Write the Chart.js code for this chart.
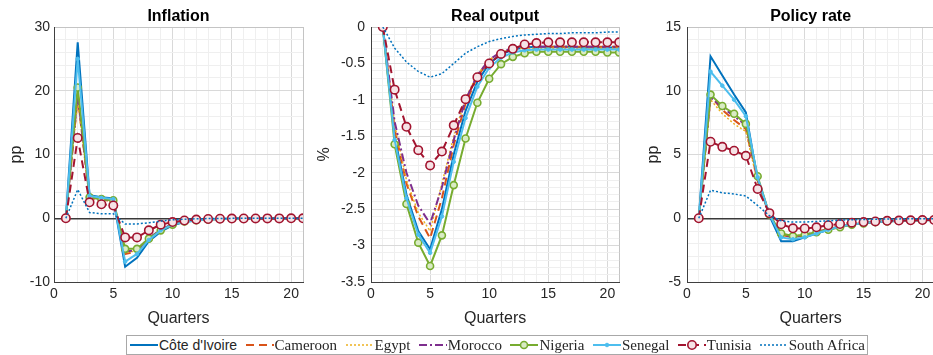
<!DOCTYPE html>
<html>
<head>
<meta charset="utf-8">
<script src="https://cdn.jsdelivr.net/npm/chart.js@4.4.1/dist/chart.umd.min.js"></script>
<style>
  html, body { margin: 0; padding: 0; background: #fff; overflow: hidden; }
  body { width: 933px; height: 355px; position: relative; }
  canvas.panel { position: absolute; top: 0; }
  #legend {
    position: absolute; left: 126px; top: 335px; width: 742px; height: 20px;
    box-sizing: border-box; border: 1px solid #a8a8a8; background: #fff;
    display: flex; align-items: center; justify-content: space-between; padding: 0 2px;
  }
  #legend .item { display: flex; align-items: center; white-space: nowrap; }
  #legend .item span { font: 15px "Liberation Serif", "Times New Roman", serif; color: #262626; }
  #legend .item span.sans { font: 14px "Liberation Sans", Arial, sans-serif; }
</style>
</head>
<body>
<canvas id="inflation" class="panel" width="310" height="330" style="left:0px"></canvas>
<canvas id="output" class="panel" width="315" height="330" style="left:310px"></canvas>
<canvas id="policy" class="panel" width="310" height="330" style="left:630px"></canvas>
<div id="legend"></div>

<script>
const quarters = [1, 2, 3, 4, 5, 6, 7, 8, 9, 10, 11, 12, 13, 14, 15, 16, 17, 18, 19, 20, 21];
const countries = ["Côte d'Ivoire", "Cameroon", "Egypt", "Morocco", "Nigeria", "Senegal", "Tunisia", "South Africa"];

// Inflation, pp
const inflCIV = [0, 27.6, 3.6, 3.3, 3.1, -7.6, -6.2, -3.6, -2.1, -1.1, -0.6, -0.35, -0.2, -0.12, -0.08, -0.05, -0.03, -0.02, -0.01, -0.01, 0];
const inflCMR = [0, 19.0, 3.2, 2.9, 2.7, -5.6, -5.2, -3.3, -1.9, -1.0, -0.5, -0.3, -0.17, -0.1, -0.06, -0.03, -0.02, -0.01, 0, 0, 0];
const inflEGY = [0, 18.5, 3.4, 3.1, 2.9, -5.4, -5.1, -3.2, -1.8, -0.9, -0.5, -0.3, -0.17, -0.1, -0.06, -0.03, -0.02, -0.01, 0, 0, 0];
const inflMAR = [0, 19.5, 3.3, 3.0, 2.8, -5.2, -5.0, -3.1, -1.8, -0.9, -0.5, -0.3, -0.17, -0.1, -0.06, -0.03, -0.02, -0.01, 0, 0, 0];
const inflNGA = [0, 20.5, 3.3, 3.0, 2.8, -4.8, -4.8, -3.2, -1.9, -1.0, -0.5, -0.3, -0.18, -0.1, -0.06, -0.04, -0.02, -0.01, 0, 0, 0];
const inflSEN = [0, 25.0, 3.5, 3.2, 3.0, -6.8, -5.6, -3.4, -1.9, -1.0, -0.55, -0.3, -0.18, -0.1, -0.06, -0.04, -0.02, -0.01, -0.01, 0, 0];
const inflTUN = [0, 12.6, 2.5, 2.2, 2.0, -3.0, -3.0, -1.9, -1.0, -0.6, -0.35, -0.2, -0.12, -0.08, -0.05, -0.04, -0.03, -0.02, -0.02, -0.01, -0.01];
const inflZAF = [0, 4.5, 0.9, 0.7, 0.7, -0.9, -0.9, -0.7, -0.45, -0.25, -0.15, -0.08, -0.05, -0.03, -0.02, -0.01, 0, 0, 0, 0, 0];

// Real output, %
const outCIV = [0, -1.5, -2.3, -2.8, -3.05, -2.5, -1.75, -1.15, -0.75, -0.5, -0.38, -0.31, -0.28, -0.27, -0.27, -0.27, -0.27, -0.28, -0.28, -0.28, -0.28];
const outCMR = [0, -1.4, -2.15, -2.6, -2.9, -2.35, -1.62, -1.05, -0.68, -0.46, -0.35, -0.3, -0.28, -0.27, -0.27, -0.27, -0.27, -0.27, -0.27, -0.27, -0.27];
const outEGY = [0, -1.35, -2.1, -2.55, -2.8, -2.15, -1.5, -0.98, -0.65, -0.45, -0.35, -0.3, -0.29, -0.29, -0.29, -0.29, -0.29, -0.29, -0.29, -0.29, -0.29];
const outMAR = [0, -1.3, -2.0, -2.45, -2.7, -2.2, -1.55, -1.0, -0.66, -0.45, -0.34, -0.29, -0.27, -0.27, -0.27, -0.27, -0.27, -0.27, -0.27, -0.27, -0.27];
const outNGA = [0, -1.61, -2.43, -2.96, -3.28, -2.86, -2.17, -1.53, -1.04, -0.71, -0.51, -0.41, -0.36, -0.34, -0.34, -0.34, -0.34, -0.34, -0.34, -0.35, -0.35];
const outSEN = [0, -1.55, -2.35, -2.85, -3.1, -2.6, -1.85, -1.25, -0.82, -0.56, -0.42, -0.35, -0.32, -0.31, -0.31, -0.31, -0.31, -0.31, -0.31, -0.31, -0.31];
const outTUN = [0, -0.86, -1.37, -1.69, -1.9, -1.71, -1.35, -0.99, -0.69, -0.5, -0.37, -0.3, -0.24, -0.22, -0.21, -0.21, -0.21, -0.21, -0.21, -0.21, -0.21];
const outZAF = [0, -0.29, -0.48, -0.61, -0.69, -0.64, -0.5, -0.36, -0.27, -0.2, -0.16, -0.13, -0.11, -0.1, -0.09, -0.09, -0.08, -0.08, -0.08, -0.07, -0.07];

// Policy rate, pp
const rateCIV = [0, 12.7, 11.2, 9.7, 8.3, 3.0, 0.2, -1.8, -1.8, -1.5, -1.2, -0.9, -0.65, -0.5, -0.38, -0.3, -0.25, -0.2, -0.17, -0.15, -0.13];
const rateCMR = [0, 9.6, 8.5, 7.7, 7.0, 3.0, 0.3, -1.3, -1.5, -1.35, -1.1, -0.85, -0.65, -0.5, -0.38, -0.3, -0.24, -0.2, -0.17, -0.15, -0.13];
const rateEGY = [0, 9.3, 8.2, 7.4, 6.8, 2.8, 0.3, -1.2, -1.4, -1.3, -1.05, -0.8, -0.6, -0.45, -0.35, -0.28, -0.23, -0.19, -0.16, -0.14, -0.12];
const rateMAR = [0, 9.5, 8.7, 8.0, 7.3, 3.1, 0.3, -1.25, -1.45, -1.3, -1.1, -0.85, -0.65, -0.5, -0.38, -0.3, -0.24, -0.2, -0.17, -0.15, -0.13];
const rateNGA = [0, 9.7, 8.8, 8.2, 7.4, 3.3, 0.3, -1.2, -1.4, -1.3, -1.1, -0.9, -0.7, -0.5, -0.4, -0.3, -0.25, -0.2, -0.17, -0.15, -0.13];
const rateSEN = [0, 11.5, 10.4, 9.3, 8.0, 3.2, 0.3, -1.5, -1.65, -1.5, -1.2, -0.9, -0.65, -0.5, -0.38, -0.3, -0.25, -0.2, -0.17, -0.15, -0.13];
const rateTUN = [0, 6.0, 5.6, 5.3, 4.9, 2.3, 0.4, -0.47, -0.79, -0.8, -0.71, -0.55, -0.45, -0.35, -0.3, -0.25, -0.2, -0.18, -0.16, -0.14, -0.13];
const rateZAF = [0, 2.2, 2.0, 1.9, 1.75, 1.0, 0.2, -0.2, -0.3, -0.3, -0.25, -0.2, -0.15, -0.12, -0.1, -0.08, -0.06, -0.05, -0.04, -0.03, -0.03];

// MATLAB-like line styles, same order as countries
const lineStyles = [
  { color: '#0072BD', dash: [], width: 2 },
  { color: '#D95319', dash: [8, 5], width: 2 },
  { color: '#EDB120', dash: [2, 2], width: 1.5 },
  { color: '#7E2F8E', dash: [8, 3, 2, 3], width: 2 },
  { color: '#77AC30', dash: [], width: 2, marker: 'circle', r: 3.5, fill: '#d9ebc4' },
  { color: '#4DBEEE', dash: [], width: 2, marker: 'circle', r: 1.8, fill: '#4DBEEE' },
  { color: '#A2142F', dash: [8, 5], width: 2, marker: 'circle', r: 4.2, fill: '#f6e3e6' },
  { color: '#0072BD', dash: [2, 2], width: 1.5 },
];

const FONT = '"Liberation Sans", Arial, sans-serif';
const INK = '#262626';

const panelTitle = {
  id: 'panelTitle',
  afterDraw(chart, args, opts) {
    /* title centred over the plot box, like matlab */
    const { ctx, chartArea } = chart;
    ctx.save();
    ctx.font = 'bold 16px ' + FONT;
    ctx.fillStyle = '#000';
    ctx.textAlign = 'center';
    ctx.textBaseline = 'middle';
    ctx.fillText(opts.text, (chartArea.left + chartArea.right) / 2, 17);
    ctx.restore();
  }
};

function makeDatasets(series) {
  return series.map((values, i) => {
    const st = lineStyles[i];
    return {
      label: countries[i],
      data: quarters.map((q, k) => ({ x: q, y: values[k] })),
      borderColor: st.color,
      borderWidth: st.width,
      borderDash: st.dash,
      pointRadius: st.marker ? st.r : 0,
      pointStyle: 'circle',
      pointBackgroundColor: st.fill,
      pointBorderColor: st.color,
      pointBorderWidth: st.r > 2 ? 1.6 : 1,
      tension: 0,
      fill: false,
      order: series.length - i,
    };
  });
}

function isMajor(v, step) {
  return Math.abs(v / step - Math.round(v / step)) < 1e-6;
}

function makePanel(id, title, yLabel, series, y) {
  /* y = {min, max, minor, major, width, pad, titlePad, zero} */
  const canvas = document.getElementById(id);
  return new Chart(canvas, {
    type: 'line',
    data: { datasets: makeDatasets(series) },
    plugins: [panelTitle],
    options: {
      responsive: false,
      animation: false,
      devicePixelRatio: 1,
      layout: { padding: { top: 27, right: y.right, bottom: 0, left: 0 } },
      plugins: {
        legend: { display: false },
        tooltip: { enabled: false },
        panelTitle: { text: title },
      },
      scales: {
        x: {
          type: 'linear',
          min: 0, max: 21,
          afterFit: (s) => { s.height = 48; },
          border: { color: '#404040', width: 1 },
          grid: {
            drawTicks: false,
            color: (c) => c.tick.value === 21 ? '#c4c4c4' : (isMajor(c.tick.value, 5) ? '#d9d9d9' : '#efefef'),
          },
          ticks: {
            stepSize: 1, autoSkip: false, maxRotation: 0, padding: 4,
            color: INK, font: { family: FONT, size: 14 },
            callback: (v) => isMajor(v, 5) ? String(v) : '',
          },
          title: {
            display: true, text: 'Quarters', color: INK,
            font: { family: FONT, size: 16 }, padding: { top: 0, bottom: 2 },
          },
        },
        y: {
          min: y.min, max: y.max,
          afterFit: (s) => { s.width = y.width; },
          border: { color: '#404040', width: 1 },
          grid: {
            drawTicks: false,
            color: (c) => {
              const v = c.tick.value;
              if (y.zero && Math.abs(v) < 1e-9) return '#3a3a3a';
              if (Math.abs(v - y.max) < 1e-9) return '#c4c4c4';
              return isMajor(v, y.major) ? '#d9d9d9' : '#efefef';
            },
            lineWidth: (c) => (y.zero && Math.abs(c.tick.value) < 1e-9) ? 1.5 : 1,
          },
          ticks: {
            stepSize: y.minor, autoSkip: false, padding: y.pad,
            color: INK, font: { family: FONT, size: 14 },
            callback: (v) => isMajor(v, y.major) ? String(Math.round(v * 10) / 10) : '',
          },
          title: {
            display: true, text: yLabel, color: INK,
            font: { family: FONT, size: 16 }, padding: { top: y.titlePad, bottom: 0 },
          },
        },
      },
    },
  });
}

makePanel('inflation', 'Inflation', 'pp',
  [inflCIV, inflCMR, inflEGY, inflMAR, inflNGA, inflSEN, inflTUN, inflZAF],
  { min: -10, max: 30, minor: 2, major: 10, width: 54, right: 7, pad: 4, titlePad: 7, zero: true });

makePanel('output', 'Real output', '%',
  [outCIV, outCMR, outEGY, outMAR, outNGA, outSEN, outTUN, outZAF],
  { min: -3.5, max: 0, minor: 0.1, major: 0.5, width: 61, right: 5, pad: 6, titlePad: 5, zero: false });

makePanel('policy', 'Policy rate', 'pp',
  [rateCIV, rateCMR, rateEGY, rateMAR, rateNGA, rateSEN, rateTUN, rateZAF],
  { min: -5, max: 15, minor: 1, major: 5, width: 57, right: 5, pad: 6, titlePad: 14, zero: true });

// legend across the bottom, line samples drawn on small canvases
function buildLegend() {
  const box = document.getElementById('legend');
  countries.forEach((name, i) => {
    const st = lineStyles[i];
    const item = document.createElement('div');
    item.className = 'item';
    const c = document.createElement('canvas');
    c.width = 30; c.height = 14;
    const ctx = c.getContext('2d');
    ctx.strokeStyle = st.color;
    ctx.lineWidth = st.width;
    ctx.setLineDash(st.dash);
    ctx.beginPath();
    ctx.moveTo(1, 7); ctx.lineTo(29, 7);
    ctx.stroke();
    if (st.marker) {
      ctx.setLineDash([]);
      ctx.fillStyle = st.fill;
      ctx.lineWidth = st.r > 2 ? 1.6 : 1;
      ctx.beginPath();
      ctx.arc(15, 7, st.r, 0, Math.PI * 2);
      ctx.fill(); ctx.stroke();
    }
    const label = document.createElement('span');
    label.textContent = name;
    if (i === 0) label.className = 'sans';
    item.appendChild(c);
    item.appendChild(label);
    box.appendChild(item);
  });
}
buildLegend();
</script>
</body>
</html>
